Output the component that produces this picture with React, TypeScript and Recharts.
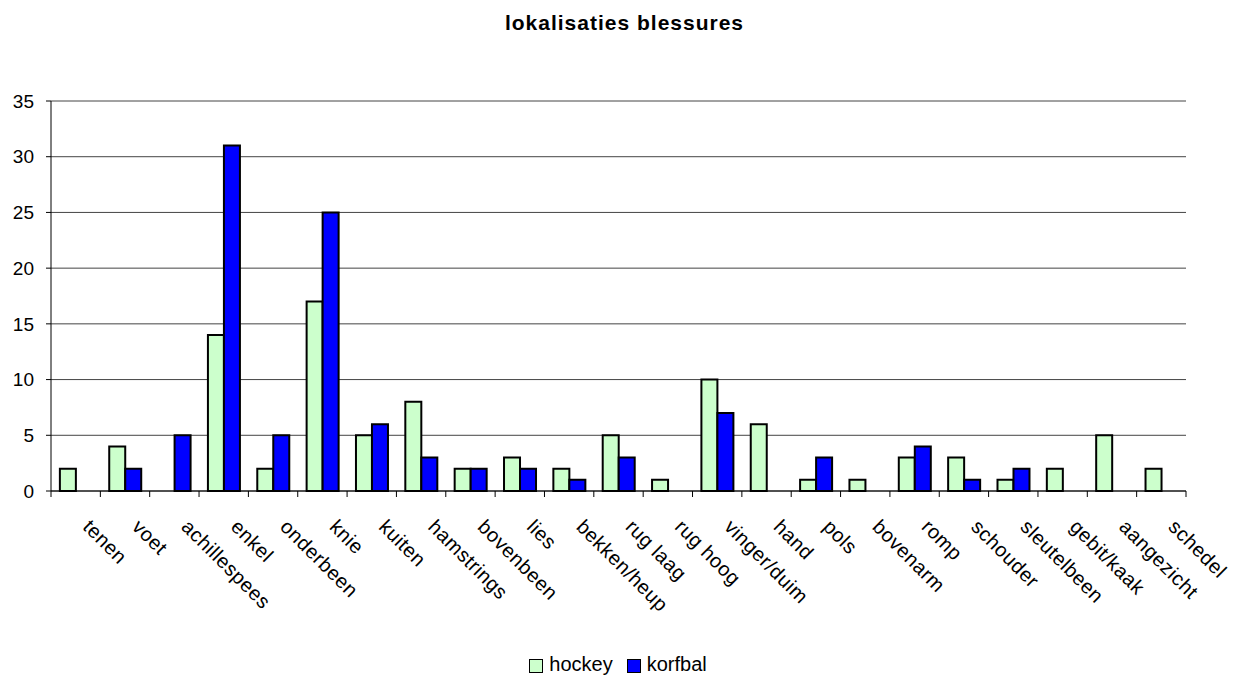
import React from 'react';
import { BarChart, Bar, XAxis, YAxis, CartesianGrid, Legend } from 'recharts';

const categories = [
  'tenen', 'voet', 'achillespees', 'enkel', 'onderbeen', 'knie', 'kuiten',
  'hamstrings', 'bovenbeen', 'lies', 'bekken/heup', 'rug laag', 'rug hoog',
  'vinger/duim', 'hand', 'pols', 'bovenarm', 'romp', 'schouder',
  'sleutelbeen', 'gebit/kaak', 'aangezicht', 'schedel',
];
const hockey = [2, 4, 0, 14, 2, 17, 5, 8, 2, 3, 2, 5, 1, 10, 6, 1, 1, 3, 3, 1, 2, 5, 2];
const korfbal = [0, 2, 5, 31, 5, 25, 6, 3, 2, 2, 1, 3, 0, 7, 0, 3, 0, 4, 1, 2, 0, 0, 0];
const yTicks = [0, 5, 10, 15, 20, 25, 30, 35];

const data = categories.map((name, i) => ({
  name,
  hockey: hockey[i],
  korfbal: korfbal[i],
}));

const FONT = '"Liberation Sans", Arial, sans-serif';
const HOCKEY_COLOR = '#ccffcc';
const KORFBAL_COLOR = '#0000ff';

// ticks sit between categories (excel style), labels rotated 45deg
const CategoryTick = (props: any) => {
  const { x, y, payload, index, visibleTicksCount } = props;
  const half = payload.offset || 0;
  const lx = x + 6;
  const ly = y + 37;
  return (
    <g>
      <line x1={x - half} y1={y} x2={x - half} y2={y + 6} stroke="#000" />
      {index === visibleTicksCount - 1 && (
        <line x1={x + half} y1={y} x2={x + half} y2={y + 6} stroke="#000" />
      )}
      <text
        x={lx}
        y={ly}
        transform={`rotate(45, ${lx}, ${ly})`}
        textAnchor="start"
        fontSize={20}
        letterSpacing={0.5}
        fontFamily={FONT}
        fill="#000"
      >
        {payload.value}
      </text>
    </g>
  );
};

const LegendContent = (props: any) => {
  const { payload } = props;
  return (
    <div style={{ display: 'flex', justifyContent: 'center', gap: 14, fontFamily: FONT, fontSize: 20 }}>
      {payload.map((entry: any) => (
        <div key={entry.value} style={{ display: 'flex', alignItems: 'center' }}>
          <span
            style={{
              display: 'inline-block',
              width: 12,
              height: 12,
              background: entry.color,
              border: '1px solid #000',
              marginRight: 6,
              marginTop: 3,
            }}
          />
          <span>{entry.value}</span>
        </div>
      ))}
    </div>
  );
};

export default function App() {
  return (
    <div style={{ position: 'relative', width: 1236, height: 675, background: '#fff' }}>
      <style>{'body{margin:0}'}</style>
      <div
        style={{
          position: 'absolute',
          top: 9,
          left: 0,
          width: 1236,
          paddingLeft: 13,
          boxSizing: 'border-box',
          textAlign: 'center',
          fontFamily: FONT,
          fontWeight: 'bold',
          fontSize: 21,
          lineHeight: '27px',
          letterSpacing: 1,
        }}
      >
        lokalisaties blessures
      </div>
      <BarChart
        width={1236}
        height={675}
        data={data}
        margin={{ top: 101, right: 50, bottom: 0, left: 0 }}
        barCategoryGap="18%"
        barGap={0}
      >
        <CartesianGrid vertical={false} stroke="#444" />
        <XAxis
          dataKey="name"
          interval={0}
          height={184}
          tickSize={0}
          tickMargin={0}
          tickLine={false}
          axisLine={{ stroke: '#000' }}
          tick={<CategoryTick />}
        />
        <YAxis
          domain={[0, 35]}
          ticks={yTicks}
          width={51}
          tickSize={5}
          tickMargin={12}
          axisLine={{ stroke: '#000' }}
          tickLine={{ stroke: '#000' }}
          tick={{ fill: '#000', fontSize: 19, fontFamily: FONT }}
        />
        <YAxis
          yAxisId="r"
          orientation="right"
          domain={[0, 35]}
          width={0}
          tick={false}
          tickLine={false}
          axisLine={{ stroke: '#a0a0a0' }}
        />
        <Legend
          layout="horizontal"
          verticalAlign="middle"
          align="center"
          wrapperStyle={{ top: 653, left: 0, width: 1236 }}
          content={<LegendContent />}
        />
        <Bar dataKey="hockey" name="hockey" fill={HOCKEY_COLOR} stroke="#000" strokeWidth={2} isAnimationActive={false} />
        <Bar dataKey="korfbal" name="korfbal" fill={KORFBAL_COLOR} stroke="#000" strokeWidth={2} isAnimationActive={false} />
      </BarChart>
    </div>
  );
}
